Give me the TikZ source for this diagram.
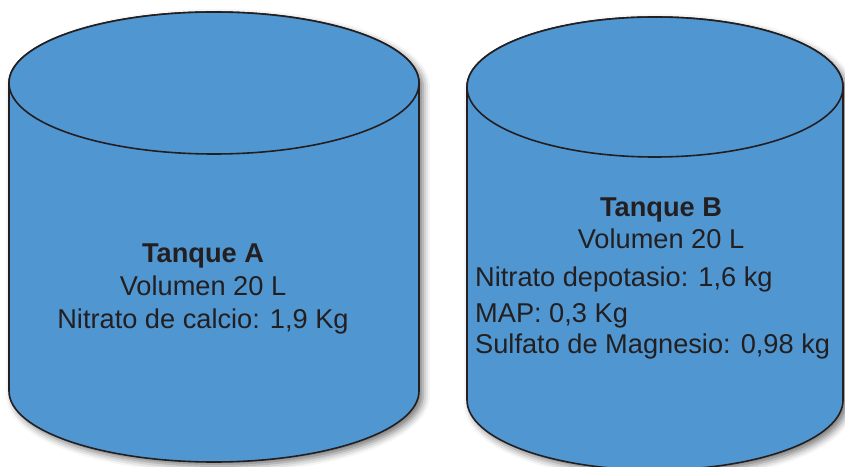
\documentclass[tikz,border=0pt]{standalone}
\usepackage{fontspec}
\setmainfont{Liberation Sans}
\usetikzlibrary{shadows.blur}
\definecolor{tankblue}{RGB}{80,150,209}
\definecolor{inkdark}{RGB}{35,31,32}
\begin{document}
\begin{tikzpicture}[x=1pt,y=1pt,
  tankbody/.style={fill=tankblue,draw=inkdark,line width=1.6pt,line join=round,
    blur shadow={shadow xshift=4pt,shadow yshift=-4pt,shadow blur radius=7pt,shadow opacity=55}},
  tanktop/.style={fill=tankblue,draw=inkdark,line width=1.6pt},
  txt/.style={anchor=base,inner sep=0pt,text=inkdark,font=\fontsize{27.2}{32}\selectfont},
  txtl/.style={txt,anchor=base west},
  title/.style={txt,font=\fontsize{27.2}{32}\selectfont\bfseries}]
\useasboundingbox (0,0) rectangle (845,466);
% Tanque A
\path[tankbody] (9,383) -- (9,75) arc[start angle=180,end angle=360,x radius=205,y radius=71]
   -- (419,383) arc[start angle=0,end angle=180,x radius=205,y radius=71] -- cycle;
\path[tanktop] (214,383) ellipse[x radius=205,y radius=71];
% Tanque B
\path[tankbody] (467,379) -- (467,66) arc[start angle=180,end angle=360,x radius=188,y radius=70]
   -- (843,379) arc[start angle=0,end angle=180,x radius=188,y radius=70] -- cycle;
\path[tanktop] (655,379) ellipse[x radius=188,y radius=70];
% texts A
\node[title] (ta) at (203,203) {Tanque A};
\node[txt] (va) at (203,171) {Volumen 20 L};
\node[txt] (na) at (203,138) {Nitrato de calcio: 1,9 Kg};
% texts B
\node[title] (tb) at (661,249) {Tanque B};
\node[txt] (vb) at (661,217) {Volumen 20 L};
\node[txtl] (nb) at (475,179) {Nitrato depotasio: 1,6 kg};
\node[txtl] (mb) at (475,144) {MAP: 0,3 Kg};
\node[txtl] (sb) at (475,113) {Sulfato de Magnesio: 0,98 kg};
\end{tikzpicture}
\end{document}
